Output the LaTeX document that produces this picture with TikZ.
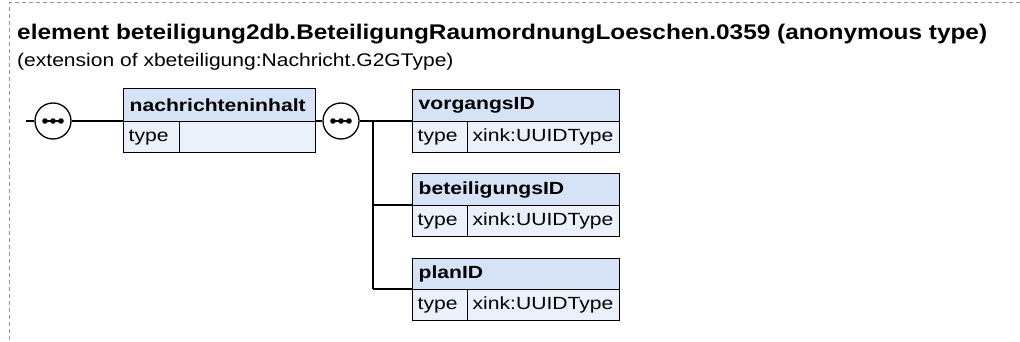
\documentclass[tikz,border=0pt]{standalone}
\usepackage{fontspec}
\setmainfont{Liberation Sans}[FakeStretch=1.15]
\newfontfamily\boxfont{Liberation Sans}[FakeStretch=1.2]
\definecolor{framecol}{RGB}{150,150,150}
\definecolor{hdrfill}{RGB}{214,227,247}
\definecolor{rowfill}{RGB}{234,241,251}
\tikzset{
  hdr/.style={draw=black, line width=1.3pt, fill=hdrfill, anchor=north west, inner xsep=6pt, inner ysep=0pt, align=left, font=\boxfont\bfseries\fontsize{17.6}{21}\selectfont},
  cell/.style={draw=black, line width=1.3pt, fill=rowfill, anchor=north west, inner xsep=5pt, inner ysep=0pt, align=left, font=\boxfont\fontsize{17.6}{21}\selectfont},
  seqc/.style={circle, draw=black, line width=1.3pt, fill=white, minimum size=36pt, inner sep=0pt},
  conn/.style={draw=black, line width=1.3pt},
}
\newcommand{\seqdots}[1]{%
  \draw[line width=1.3pt] ([xshift=-10pt]#1.center) -- ([xshift=10pt]#1.center);
  \fill ([xshift=-8pt]#1.center) circle (2.8pt);
  \fill (#1.center) circle (2.8pt);
  \fill ([xshift=8pt]#1.center) circle (2.8pt);
}
\begin{document}
\begin{tikzpicture}[x=1pt,y=-1pt]
\useasboundingbox (0,0) rectangle (1020,342);
\draw[framecol, line width=1pt, dash pattern=on 4pt off 3pt] (1020,3) -- (9,3) -- (9,342);

\node[anchor=base west, inner sep=0pt, font=\bfseries\fontsize{21.2}{25}\selectfont] (title) at (17,40) {element beteiligung2db.BeteiligungRaumordnungLoeschen.0359 (anonymous type)};
\node[anchor=base west, inner sep=0pt, font=\fontsize{18.3}{22}\selectfont] (sub) at (17,67) {(extension of xbeteiligung:Nachricht.G2GType)};

% nachrichteninhalt
\node[hdr, minimum width=192pt, minimum height=33pt, text width=180pt] (nh) at (123,88) {nachrichteninhalt};
\node[cell, minimum width=56pt, minimum height=31pt, text width=46pt] (nt) at (123,121) {type};
\node[cell, minimum width=136pt, minimum height=31pt, text width=126pt] (nv) at (179,121) {};

% children
\node[hdr, minimum width=207pt, minimum height=32pt, text width=195pt] (vh) at (412,89) {vorgangsID};
\node[cell, minimum width=55pt, minimum height=31pt, text width=45pt] (vt) at (412,121) {type};
\node[cell, minimum width=152pt, minimum height=31pt, text width=142pt] (vv) at (467,121) {xink:UUIDType};

\node[hdr, minimum width=207pt, minimum height=32pt, text width=195pt] (bh) at (412,173) {beteiligungsID};
\node[cell, minimum width=55pt, minimum height=31pt, text width=45pt] (bt) at (412,205) {type};
\node[cell, minimum width=152pt, minimum height=31pt, text width=142pt] (bv) at (467,205) {xink:UUIDType};

\node[hdr, minimum width=207pt, minimum height=31pt, text width=195pt] (ph) at (412,258) {planID};
\node[cell, minimum width=55pt, minimum height=31pt, text width=45pt] (pt) at (412,289) {type};
\node[cell, minimum width=152pt, minimum height=31pt, text width=142pt] (pv) at (467,289) {xink:UUIDType};

% sequence circles
\coordinate (start) at (26,121);
\node[seqc] (s1) at (53,121) {};
\node[seqc] (s2) at (341,121) {};
\coordinate (j) at (373,121);
\coordinate (jb) at (373,205);
\coordinate (jp) at (373,289);

\draw[conn] (start) -- (s1.west);
\draw[conn] (s1.east) -- (nt.north west);
\draw[conn] (nv.north east) -- (s2.west);
\draw[conn] (s2.east) -- (j) -- (vt.north west);
\draw[conn] (j) -- (jp);
\draw[conn] (jb) -- (bt.north west);
\draw[conn] (jp) -- (pt.north west);

\seqdots{s1}
\seqdots{s2}
\end{tikzpicture}
\end{document}
